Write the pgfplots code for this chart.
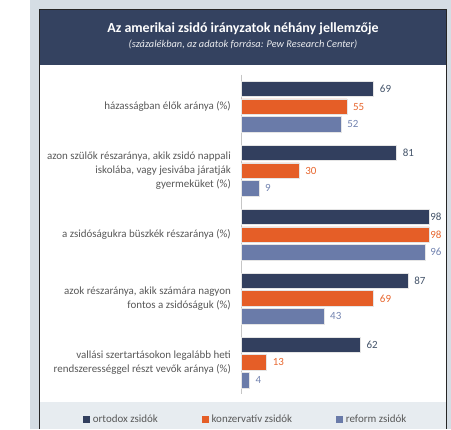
\documentclass[border=0pt]{standalone}
\usepackage{pgfplots}
\pgfplotsset{compat=1.18}
\usepackage{fontspec}
\setmainfont{Carlito}
\definecolor{navy}{HTML}{323F5E}
\definecolor{orng}{HTML}{E55E27}
\definecolor{slate}{HTML}{6A7BA9}
\definecolor{band}{HTML}{344260}
\definecolor{panel}{HTML}{D5DDE4}
\definecolor{legband}{HTML}{E7ECF0}
\definecolor{txt}{HTML}{595959}
\definecolor{navytxt}{HTML}{44546A}
\definecolor{orngtxt}{HTML}{E8672F}
\definecolor{slatetxt}{HTML}{7384B1}
\begin{document}
\begin{tikzpicture}
\begin{scope}[x=1bp,y=1bp]
\useasboundingbox (0,0) rectangle (451,429);
\fill[panel] (30,0) rectangle (451,429);
\fill[white] (40,0) rectangle (446,419);
\fill[band] (40,364.5) rectangle (446,419);
\fill[legband] (40,0) rectangle (446,27);
\draw[line width=1.5bp, black!85] (39.5,0) -- (39.5,419.5) -- (446.5,419.5) -- (446.5,0);
\node[white, font=\bfseries\fontsize{14}{16}\selectfont] at (243,400.5) {Az amerikai zsidó irányzatok néhány jellemzője};
\node[white!90!band, font=\itshape\fontsize{10.4}{12}\selectfont] at (243,384.7) {(százalékban, az adatok forrása: Pew Research Center)};
\end{scope}
\begin{axis}[
  at={(241.7bp,34.6bp)}, anchor=south west,
  width=191.3bp, height=319.8bp, scale only axis,
  xmin=0, xmax=100, ymin=-0.5, ymax=4.5, y dir=reverse,
  axis x line=none, axis y line*=left,
  y axis line style={gray!45, line width=0.8bp, -},
  xtick=\empty,
  ytick={0,1,2,3,4},
  yticklabels={{házasságban élők aránya (\%)},
    {azon szülők részaránya, akik zsidó nappali\\iskolába, vagy jesivába járatják\\gyermeküket (\%)},
    {a zsidóságukra büszkék részaránya (\%)},
    {azok részaránya, akik számára nagyon\\fontos a zsidóságuk (\%)},
    {vallási szertartásokon legalább heti\\rendszerességgel részt vevők aránya (\%)}},
  yticklabel style={font=\fontsize{11}{14}\selectfont, text=txt, align=right, inner sep=0pt, xshift=-10.7bp},
  major tick length=0pt,
  clip=false,
  xbar, bar width=15.5bp,
  /pgf/number format/assume math mode=true,
  nodes near coords,
  visualization depends on={min(6,(98.5-rawx)*1.913) \as \myshift},
  every node near coord/.append style={font=\fontsize{11}{13}\selectfont, anchor=west, inner sep=0pt, xshift=\myshift bp},
  legend columns=3,
  legend style={at={(axis cs:1.62,4.884)}, anchor=center, draw=none, fill=none,
    nodes={font=\fontsize{11}{13}\selectfont, text=txt, inner sep=0pt},
    /tikz/every even column/.append style={column sep=44bp},
    /tikz/every odd column/.append style={column sep=3bp}},
]
\addplot[fill=navy, draw=gray!20, line width=0.5bp, bar shift=17.6bp,
  every node near coord/.append style={text=navytxt},
  legend image code/.code={\fill[navy] (0bp,-3.1bp) rectangle (6.2bp,3.1bp);}]
  coordinates {(69,0) (81,1) (98,2) (87,3) (62,4)};
\addplot[fill=orng, draw=gray!20, line width=0.5bp, bar shift=0bp,
  every node near coord/.append style={text=orngtxt},
  legend image code/.code={\fill[orng] (0bp,-3.1bp) rectangle (6.2bp,3.1bp);}]
  coordinates {(55,0) (30,1) (98,2) (69,3) (13,4)};
\addplot[fill=slate, draw=gray!20, line width=0.5bp, bar shift=-17.6bp,
  every node near coord/.append style={text=slatetxt},
  legend image code/.code={\fill[slate] (0bp,-3.1bp) rectangle (6.2bp,3.1bp);}]
  coordinates {(52,0) (9,1) (96,2) (43,3) (4,4)};
\legend{ortodox zsidók, konzervatív zsidók, reform zsidók}
\end{axis}
\end{tikzpicture}
\end{document}
